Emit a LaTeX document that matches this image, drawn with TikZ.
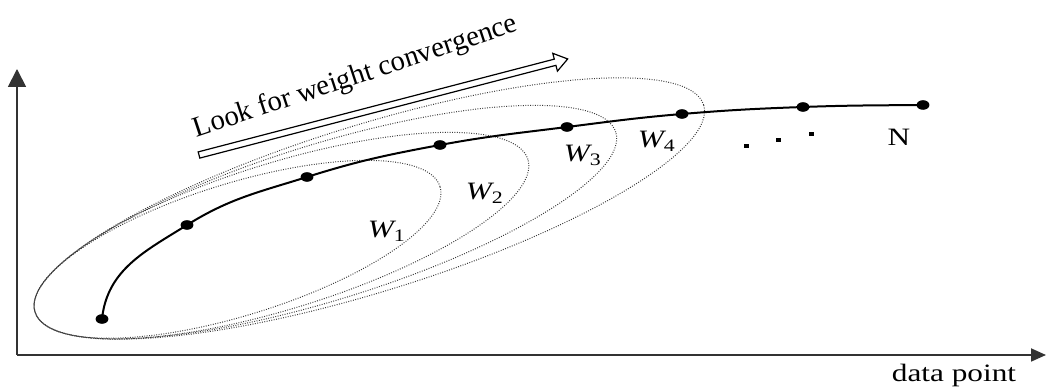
\documentclass[tikz,border=0pt]{standalone}
\usepackage{fontspec}
\setmainfont{Liberation Serif}
\usepackage{tikz}
\usetikzlibrary{arrows.meta, calc, shapes.geometric}
\definecolor{convink}{HTML}{000000}
\definecolor{convaxis}{HTML}{333333}
\definecolor{convdots}{HTML}{3A3A3A}
\newcommand{\wlabel}[1]{{\itshape W}\textsubscript{#1}}
\tikzset{
  plotlabel/.style={
    font=\fontsize{12.5}{15}\selectfont,
    inner sep=0pt,
    xscale=1.25,
    anchor=base
  },
  looklabel/.style={
    font=\fontsize{14.4}{17}\selectfont,
    inner sep=0pt,
    anchor=base,
    rotate=18.3
  },
  datadot/.style={
    ellipse,
    fill=convink,
    inner sep=0pt,
    minimum width=6.4pt,
    minimum height=4.8pt
  },
  curveline/.style={line width=1pt, draw=convink},
  windowline/.style={
    draw=convdots,
    line width=0.5pt,
    dash pattern=on 0.45pt off 0.75pt
  },
  axisline/.style={line width=0.9pt, draw=convaxis},
  hollowarrow/.style={line width=0.6pt, draw=convink, fill=white, line join=miter}
}

\begin{document}
\begin{tikzpicture}[x=0.5pt,y=0.5pt]
\useasboundingbox (0,0) rectangle (1047,389);

\coordinate (origin) at (17,34);
\coordinate (ytip) at (17,320);
\coordinate (xtip) at (1046,34);
\coordinate (winleft) at (35,77);
\coordinate (lookstart) at (199,234);

\draw[axisline, -{Triangle[length=9pt,width=9pt]}] (origin) -- (ytip);
\draw[axisline, -{Triangle[length=7.5pt,width=6.5pt]}] (origin) -- (xtip);

\foreach \ra/\rb in {212/66, 258/73, 304/78, 350/83.5}
  \draw[windowline, rotate around={17.2:(winleft)}]
    ($(winleft)+(\ra,0)$) ellipse [x radius=\ra, y radius=\rb];

\foreach \n/\px/\py in {0/102/70, 1/187/164, 2/307/212, 3/440/244,
                        4/567/262, 5/682/275, 6/803/282, 7/923/284}
  \node[datadot] (p\n) at (\px,\py) {};

\draw[curveline] (p0.center) to[out=84,in=212] (p1.center)
  to[out=32,in=197.5] (p2.center) to[out=17.5,in=190.5] (p3.center)
  to[out=10.5,in=187.2] (p4.center) to[out=7.2,in=184.8] (p5.center)
  to[out=4.8,in=182.1] (p6.center) to[out=2.1,in=180.5] (p7.center);

\node[plotlabel] (w1) at (387,151) {\wlabel{1}};
\node[plotlabel] (w2) at (485,189) {\wlabel{2}};
\node[plotlabel] (w3) at (583,227) {\wlabel{3}};
\node[plotlabel] (w4) at (657,241) {\wlabel{4}};
\node[plotlabel] (last) at (899,243) {N};
\node[plotlabel] (xlabel) at (954,7) {data point};

\foreach \dx/\dy in {746/243, 778/249, 811/255}
  \fill[convink] (\dx-2.5,\dy-2) rectangle ++(5,4);

\begin{scope}[shift={(lookstart)}, rotate=14.6]
  \draw[hollowarrow] (0,-3.2) -- (368,-3.2) -- (368,-9.2) -- (381,0)
    -- (368,9.2) -- (368,3.2) -- (0,3.2) -- cycle;
\end{scope}
\node[looklabel] (look) at (358,305) {Look for weight convergence};
\end{tikzpicture}
\end{document}
